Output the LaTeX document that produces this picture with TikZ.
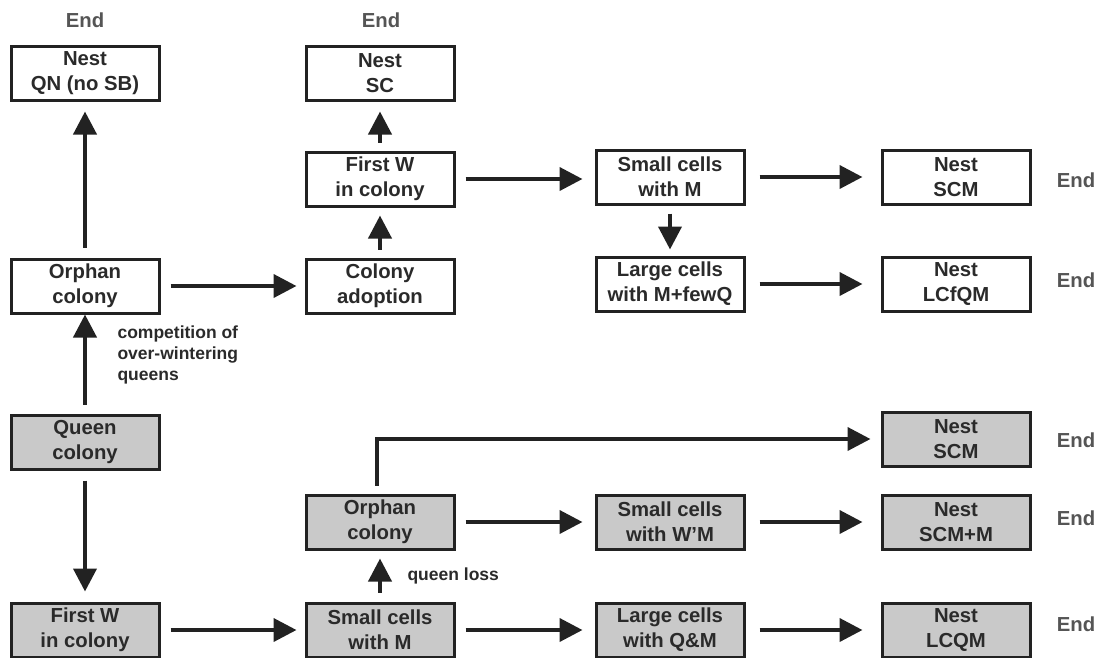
\documentclass[tikz,border=0pt]{standalone}
\usepackage{fontspec}
\setmainfont{Liberation Sans}
\usetikzlibrary{arrows.meta}
\definecolor{txt}{HTML}{2A2A2A}
\definecolor{ink}{HTML}{222222}
\definecolor{boxgray}{HTML}{C9C9C9}
\begin{document}
\begin{tikzpicture}[x=1pt,y=-1pt,
  box/.style={draw=ink,line width=3pt,rectangle,minimum width=148pt,minimum height=54pt,
    inner sep=0pt,align=center,text=txt,font=\fontsize{20.3}{25}\selectfont\bfseries},
  gbox/.style={box,fill=boxgray},
  endlbl/.style={text=txt!80,font=\fontsize{20.3}{24}\selectfont\bfseries},
  note/.style={text=txt,font=\fontsize{17.5}{21}\selectfont\bfseries,align=left,anchor=north west},
  arr/.style={draw=ink,line width=4pt,-{Triangle[length=23pt,width=23pt]}},
  ln/.style={draw=ink,line width=4pt}]
\useasboundingbox (0,0) rectangle (1097,657);
% top half
\node[box] (nqn) at (85,73) {Nest\\QN (no SB)};
\node[box] (nsc) at (380,73) {Nest\\SC};
\node[box] (fw1) at (380,179) {First W\\in colony};
\node[box] (sc1) at (670,177) {Small cells\\with M};
\node[box] (nscm1) at (956,177) {Nest\\SCM};
\node[box] (orph1) at (85,286) {Orphan\\colony};
\node[box] (adopt) at (380,286) {Colony\\adoption};
\node[box] (lc1) at (670,284) {Large cells\\with M+fewQ};
\node[box] (nlcf) at (956,284) {Nest\\LCfQM};
% bottom half
\node[gbox] (queen) at (85,442) {Queen\\colony};
\node[gbox] (nscm2) at (956,439) {Nest\\SCM};
\node[gbox] (orph2) at (380,522) {Orphan\\colony};
\node[gbox] (scw) at (670,522) {Small cells\\with W’M};
\node[gbox] (nscmm) at (956,522) {Nest\\SCM+M};
\node[gbox] (fw2) at (85,630) {First W\\in colony};
\node[gbox] (sc2) at (380,630) {Small cells\\with M};
\node[gbox] (lcq) at (670,630) {Large cells\\with Q\&M};
\node[gbox] (nlcq) at (956,630) {Nest\\LCQM};
% End labels
\node[endlbl] (e1) at (85,20) {End};
\node[endlbl] (e2) at (381,20) {End};
\node[endlbl] (e3) at (1076,180) {End};
\node[endlbl] (e4) at (1076,280) {End};
\node[endlbl] (e5) at (1076,440) {End};
\node[endlbl] (e6) at (1076,518) {End};
\node[endlbl] (e7) at (1076,624) {End};
% notes
\node[note] (n1) at (114,322) {competition of\\over-wintering\\queens};
\node[note] (n2) at (404,564) {queen loss};
% arrows
\draw[arr,shorten <=10pt,shorten >=10pt] (orph1.north) -- (nqn.south);
\draw[arr,shorten <=10pt,shorten >=8pt] (orph1.east) -- (adopt.west);
\draw[arr,shorten <=8pt,shorten >=8pt] (adopt.north) -- (fw1.south);
\draw[arr,shorten <=8pt,shorten >=10pt] (fw1.north) -- (nsc.south);
\draw[arr,shorten <=10pt,shorten >=12pt] (fw1.east) -- (fw1.east -| sc1.west);
\draw[arr,shorten <=14pt,shorten >=18pt] (sc1.east) -- (nscm1.west);
\draw[arr,shorten <=8pt,shorten >=6pt] (sc1.south) -- (lc1.north);
\draw[arr,shorten <=14pt,shorten >=18pt] (lc1.east) -- (nlcf.west);
\draw[arr,shorten <=9pt,shorten >=0pt] (queen.north) -- (orph1.south);
\draw[arr,shorten <=10pt,shorten >=10pt] (queen.south) -- (fw2.north);
\draw[arr,shorten <=10pt,shorten >=8pt] (fw2.east) -- (sc2.west);
\draw[arr,shorten <=9pt,shorten >=8pt] (sc2.north) -- (orph2.south);
\draw[arr,shorten <=10pt,shorten >=12pt] (orph2.east) -- (scw.west);
\draw[arr,shorten <=10pt,shorten >=12pt] (sc2.east) -- (lcq.west);
\draw[arr,shorten <=14pt,shorten >=18pt] (scw.east) -- (nscmm.west);
\draw[arr,shorten <=14pt,shorten >=18pt] (lcq.east) -- (nlcq.west);
\draw[arr,shorten <=8pt,shorten >=10pt] (orph2.north -| 377,0) |- (nscm2.west);
\end{tikzpicture}
\end{document}
